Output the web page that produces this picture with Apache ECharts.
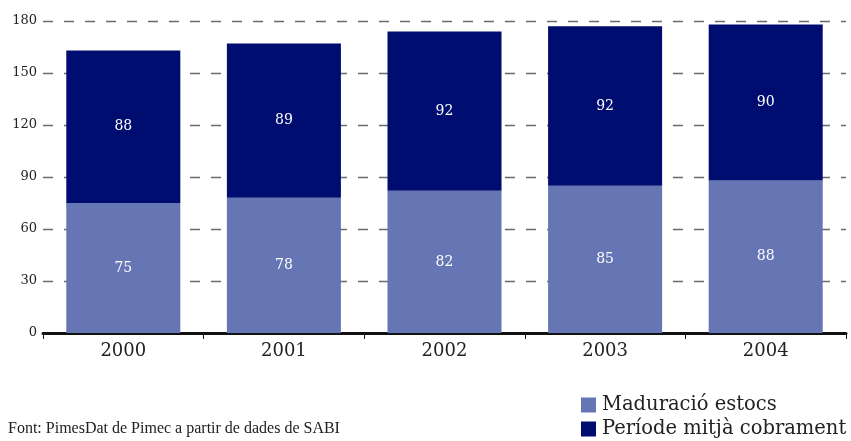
<!DOCTYPE html>
<html>
<head>
<meta charset="utf-8">
<script src="https://cdn.jsdelivr.net/npm/echarts@6/dist/echarts.min.js"></script>
<style>
  html, body { margin: 0; padding: 0; background: #fff; }
  #chart { width: 851px; height: 441px; }
</style>
</head>
<body>
<div id="chart"></div>
<script>
// dades
const years = ['2000', '2001', '2002', '2003', '2004'];
const maduracio = [75, 78, 82, 85, 88];
const cobrament = [88, 89, 92, 92, 90];
const yTicks = [0, 30, 60, 90, 120, 150, 180];

const serif = '"DejaVu Serif", "Liberation Serif", serif';

const chart = echarts.init(document.getElementById('chart'));

const option = {
  animation: false,
  grid: { left: 43, right: 5, top: 21, bottom: 108 },
  legend: {
    orient: 'vertical',
    left: 581,
    top: 395,
    padding: 0,
    itemWidth: 15,
    itemHeight: 15,
    itemGap: 4,
    icon: 'rect',
    textStyle: { fontFamily: serif, fontSize: 19.5, color: '#222', padding: [0, 0, 0, 1], lineHeight: 20 },
    data: ['Maduració estocs', 'Període mitjà cobrament']
  },
  graphic: [{
    type: 'text',
    left: 8,
    top: 421,
    style: {
      text: 'Font: PimesDat de Pimec a partir de dades de SABI',
      font: '16px "Liberation Serif", serif',
      fill: '#222'
    }
  }],
  xAxis: {
    type: 'category',
    data: years,
    axisLine: { lineStyle: { color: '#111', width: 3 } },
    axisTick: { show: true, length: 6, lineStyle: { color: '#111', width: 1 } },
    axisLabel: { fontFamily: serif, fontSize: 18, color: '#222', margin: 9 }
  },
  yAxis: {
    type: 'value',
    min: yTicks[0],
    max: yTicks[yTicks.length - 1],
    interval: 30,
    axisLine: { show: false },
    axisTick: { show: false },
    axisLabel: { fontFamily: serif, fontSize: 13, color: '#222', margin: 6 },
    splitLine: { lineStyle: { color: '#6a6a6a', width: 1.3, type: [10, 11] } }
  },
  series: [
    {
      name: 'Maduració estocs',
      type: 'bar',
      stack: 'total',
      data: maduracio,
      barCategoryGap: '29%',
      itemStyle: { color: '#6676b4' },
      label: { show: true, position: 'inside', color: '#fff', fontFamily: serif, fontSize: 14 }
    },
    {
      name: 'Període mitjà cobrament',
      type: 'bar',
      stack: 'total',
      data: cobrament,
      barCategoryGap: '29%',
      itemStyle: { color: '#000d70' },
      label: { show: true, position: 'inside', color: '#fff', fontFamily: serif, fontSize: 14 }
    }
  ]
};

chart.setOption(option);
</script>
</body>
</html>
